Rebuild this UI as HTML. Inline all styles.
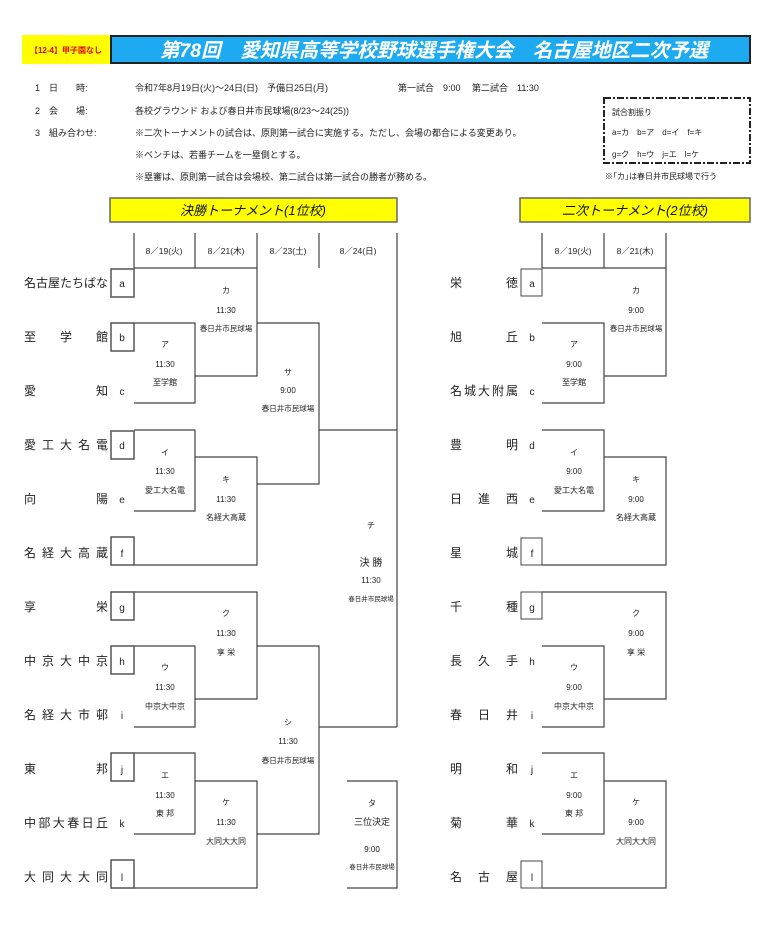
<!DOCTYPE html>
<html><head><meta charset="utf-8"><style>
html,body{margin:0;padding:0;background:#fff;}
svg{display:block;font-family:"Liberation Sans","Noto Sans CJK JP",sans-serif;}
</style></head><body>
<svg width="770" height="947" viewBox="0 0 770 947" xmlns="http://www.w3.org/2000/svg">
<!-- title -->
<rect x="22" y="35" width="88" height="29" fill="#ffff00"/>
<text x="66" y="53" font-size="8" fill="#e00000" text-anchor="middle" font-weight="bold">【12-4】甲子園なし</text>
<rect x="111" y="36" width="639" height="27" fill="#1eaaf0" stroke="#222" stroke-width="2"/>
<text x="434" y="57" font-size="19.5" fill="#fff" text-anchor="middle" font-weight="bold" font-style="italic">第78回　愛知県高等学校野球選手権大会　名古屋地区二次予選</text>
<!-- info -->
<g font-size="9" fill="#222">
<text x="35" y="91">1　日　　時:</text>
<text x="135" y="91">令和7年8月19日(火)～24日(日)　予備日25日(月)</text>
<text x="398" y="91">第一試合　9:00　 第二試合　11:30</text>
<text x="35" y="114">2　会　　場:</text>
<text x="135" y="114">各校グラウンド および春日井市民球場(8/23～24(25))</text>
<text x="35" y="136">3　組み合わせ:</text>
<text x="135" y="136">※二次トーナメントの試合は、原則第一試合に実施する。ただし、会場の都合による変更あり。</text>
<text x="135" y="158">※ベンチは、若番チームを一塁側とする。</text>
<text x="135" y="180">※塁審は、原則第一試合は会場校、第二試合は第一試合の勝者が務める。</text>
</g>
<rect x="604" y="98" width="146" height="65" fill="none" stroke="#222" stroke-width="2" stroke-dasharray="7,2,2,2"/>
<g font-size="8" fill="#222">
<text x="612" y="115">試合割振り</text>
<text x="612" y="135">a=カ　b=ア　d=イ　f=キ</text>
<text x="612" y="157">g=ク　h=ウ　j=エ　l=ケ</text>
<text x="605" y="179">※｢カ｣は春日井市民球場で行う</text>
</g>
<rect x="110" y="198" width="287" height="24" fill="#ffff00" stroke="#666" stroke-width="1.5"/>
<text x="253" y="215" font-size="13" text-anchor="middle" font-style="italic" fill="#111">決勝トーナメント(1位校)</text>
<rect x="520" y="198" width="230" height="24" fill="#ffff00" stroke="#666" stroke-width="1.5"/>
<text x="635" y="215" font-size="13" text-anchor="middle" font-style="italic" fill="#111">二次トーナメント(2位校)</text>

<!-- LEFT bracket lines -->
<g stroke="#444" stroke-width="1.2" fill="none">
<path d="M134 233V268M195 233V268M257 233V268M319 233V268M397 233V727"/>
<path d="M134 268H257V376H195M134 323H195V403H134"/>
<path d="M257 323H319V484H257M319 430H397"/>
<path d="M134 430H195V511H134M195 457H257V565H134"/>
<path d="M134 592H257V699H195M134 646H195V727H134"/>
<path d="M257 646H319V834H257M319 727H397"/>
<path d="M134 753H195V834H134M195 781H257V888H134"/>
<path d="M347 781H397V888H347"/>
</g>
<g stroke="#555" stroke-width="1.5" fill="#fff">
<rect x="111" y="269" width="23" height="28"/><rect x="111" y="323" width="23" height="28"/>
<rect x="111" y="431" width="23" height="28"/><rect x="111" y="537" width="23" height="28"/>
<rect x="111" y="592" width="23" height="28"/><rect x="111" y="646" width="23" height="28"/>
<rect x="111" y="753" width="23" height="28"/><rect x="111" y="860" width="23" height="28"/>
</g>
<g font-size="8.5" fill="#222" text-anchor="middle">
<text x="164" y="254">8／19(火)</text><text x="226" y="254">8／21(木)</text>
<text x="288" y="254">8／23(土)</text><text x="358" y="254">8／24(日)</text>
</g>
<g font-size="12" fill="#222">
<text x="24" y="287" textLength="84" lengthAdjust="spacing">名古屋たちばな</text>
<text x="24" y="341" textLength="84" lengthAdjust="spacing">至学館</text>
<text x="24" y="395" textLength="84" lengthAdjust="spacing">愛知</text>
<text x="24" y="449" textLength="84" lengthAdjust="spacing">愛工大名電</text>
<text x="24" y="503" textLength="84" lengthAdjust="spacing">向陽</text>
<text x="24" y="557" textLength="84" lengthAdjust="spacing">名経大高蔵</text>
<text x="24" y="611" textLength="84" lengthAdjust="spacing">享栄</text>
<text x="24" y="665" textLength="84" lengthAdjust="spacing">中京大中京</text>
<text x="24" y="719" textLength="84" lengthAdjust="spacing">名経大市邨</text>
<text x="24" y="773" textLength="84" lengthAdjust="spacing">東邦</text>
<text x="24" y="827" textLength="84" lengthAdjust="spacing">中部大春日丘</text>
<text x="24" y="881" textLength="84" lengthAdjust="spacing">大同大大同</text>
</g>
<g font-size="10" fill="#222" text-anchor="middle">
<text x="122" y="287">a</text><text x="122" y="341">b</text><text x="122" y="395">c</text>
<text x="122" y="449">d</text><text x="122" y="503">e</text><text x="122" y="557">f</text>
<text x="122" y="611">g</text><text x="122" y="665">h</text><text x="122" y="719">i</text>
<text x="122" y="773">j</text><text x="122" y="827">k</text><text x="122" y="881">l</text>
</g>
<g font-size="8" fill="#222" text-anchor="middle">
<text x="226" y="293">カ</text><text x="226" y="313">11:30</text><text x="226" y="331" font-size="7.5">春日井市民球場</text>
<text x="165" y="347">ア</text><text x="165" y="367">11:30</text><text x="165" y="385">至学館</text>
<text x="288" y="375">サ</text><text x="288" y="393">9:00</text><text x="288" y="411" font-size="7.5">春日井市民球場</text>
<text x="165" y="455">イ</text><text x="165" y="474">11:30</text><text x="165" y="493">愛工大名電</text>
<text x="226" y="482">キ</text><text x="226" y="502">11:30</text><text x="226" y="520">名経大高蔵</text>
<text x="371" y="528">チ</text><text x="371" y="566" font-size="10">決 勝</text><text x="371" y="583">11:30</text><text x="371" y="601" font-size="6.5">春日井市民球場</text>
<text x="226" y="616">ク</text><text x="226" y="636">11:30</text><text x="226" y="655">享 栄</text>
<text x="165" y="670">ウ</text><text x="165" y="690">11:30</text><text x="165" y="709">中京大中京</text>
<text x="288" y="725">シ</text><text x="288" y="744">11:30</text><text x="288" y="763" font-size="7.5">春日井市民球場</text>
<text x="165" y="778">エ</text><text x="165" y="798">11:30</text><text x="165" y="816">東 邦</text>
<text x="226" y="805">ケ</text><text x="226" y="825">11:30</text><text x="226" y="844">大同大大同</text>
<text x="372" y="806">タ</text><text x="372" y="825" font-size="9">三位決定</text><text x="372" y="852">9:00</text><text x="372" y="869" font-size="6.5">春日井市民球場</text>
</g>

<!-- RIGHT bracket -->
<g stroke="#444" stroke-width="1.2" fill="none">
<path d="M542 233V268M604 233V268M666 233V268"/>
<path d="M542 268H666V376H604M542 323H604V403H542"/>
<path d="M542 430H604V511H542M604 457H666V565H542"/>
<path d="M542 592H666V699H604M542 646H604V727H542"/>
<path d="M542 753H604V834H542M604 781H666V888H542"/>
</g>
<g stroke="#444" stroke-width="1" fill="#fff">
<rect x="521" y="269" width="21" height="27"/><rect x="521" y="538" width="21" height="27"/>
<rect x="521" y="592" width="21" height="27"/><rect x="521" y="861" width="21" height="27"/>
</g>
<g font-size="8.5" fill="#222" text-anchor="middle">
<text x="573" y="254">8／19(火)</text><text x="635" y="254">8／21(木)</text>
</g>
<g font-size="12" fill="#222">
<text x="450" y="287" textLength="68" lengthAdjust="spacing">栄徳</text>
<text x="450" y="341" textLength="68" lengthAdjust="spacing">旭丘</text>
<text x="450" y="395" textLength="68" lengthAdjust="spacing">名城大附属</text>
<text x="450" y="449" textLength="68" lengthAdjust="spacing">豊明</text>
<text x="450" y="503" textLength="68" lengthAdjust="spacing">日進西</text>
<text x="450" y="557" textLength="68" lengthAdjust="spacing">星城</text>
<text x="450" y="611" textLength="68" lengthAdjust="spacing">千種</text>
<text x="450" y="665" textLength="68" lengthAdjust="spacing">長久手</text>
<text x="450" y="719" textLength="68" lengthAdjust="spacing">春日井</text>
<text x="450" y="773" textLength="68" lengthAdjust="spacing">明和</text>
<text x="450" y="827" textLength="68" lengthAdjust="spacing">菊華</text>
<text x="450" y="881" textLength="68" lengthAdjust="spacing">名古屋</text>
</g>
<g font-size="10" fill="#222" text-anchor="middle">
<text x="532" y="287">a</text><text x="532" y="341">b</text><text x="532" y="395">c</text>
<text x="532" y="449">d</text><text x="532" y="503">e</text><text x="532" y="557">f</text>
<text x="532" y="611">g</text><text x="532" y="665">h</text><text x="532" y="719">i</text>
<text x="532" y="773">j</text><text x="532" y="827">k</text><text x="532" y="881">l</text>
</g>
<g font-size="8" fill="#222" text-anchor="middle">
<text x="636" y="293">カ</text><text x="636" y="313">9:00</text><text x="636" y="331" font-size="7.5">春日井市民球場</text>
<text x="574" y="347">ア</text><text x="574" y="367">9:00</text><text x="574" y="385">至学館</text>
<text x="574" y="455">イ</text><text x="574" y="474">9:00</text><text x="574" y="493">愛工大名電</text>
<text x="636" y="482">キ</text><text x="636" y="502">9:00</text><text x="636" y="520">名経大高蔵</text>
<text x="636" y="616">ク</text><text x="636" y="636">9:00</text><text x="636" y="655">享 栄</text>
<text x="574" y="670">ウ</text><text x="574" y="690">9:00</text><text x="574" y="709">中京大中京</text>
<text x="574" y="778">エ</text><text x="574" y="798">9:00</text><text x="574" y="816">東 邦</text>
<text x="636" y="805">ケ</text><text x="636" y="825">9:00</text><text x="636" y="844">大同大大同</text>
</g>
</svg>
</body></html>
